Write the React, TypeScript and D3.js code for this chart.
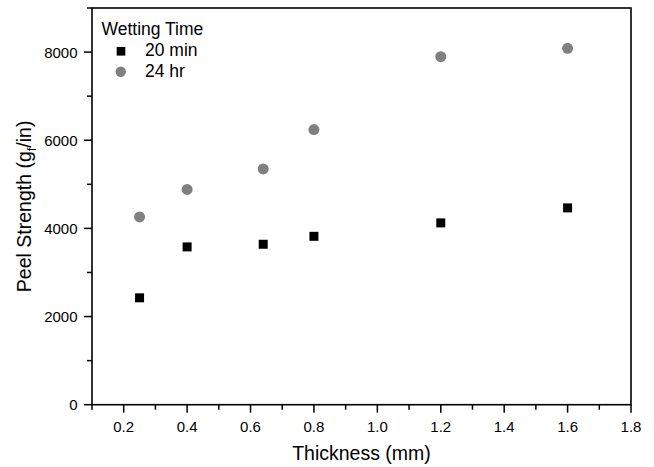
import React from "react";
import * as d3 from "d3";

const thickness = [0.25, 0.4, 0.64, 0.8, 1.2, 1.6];
const min20 = [2425, 3580, 3640, 3820, 4125, 4465];
const hr24 = [4260, 4885, 5350, 6243, 7895, 8085];
const xTicks = [0.2, 0.4, 0.6, 0.8, 1.0, 1.2, 1.4, 1.6, 1.8];
const xMinor = [0.1, 0.3, 0.5, 0.7, 0.9, 1.1, 1.3, 1.5, 1.7];
const yTicks = [0, 2000, 4000, 6000, 8000];
const yMinor = [1000, 3000, 5000, 7000, 9000];

const W = 654, H = 467;
const L = 92, R = 631, T = 8, B = 404.7;
const font = "'Liberation Sans', Arial, sans-serif";

export default function App() {
  const x = d3.scaleLinear().domain([0.1, 1.8]).range([L, R]);
  const y = d3.scaleLinear().domain([0, 9000]).range([B, T]);
  return (
    <svg width={W} height={H} style={{ position: "absolute", left: 0, top: 0 }} fontFamily={font}>
      <rect x={0} y={0} width={W} height={H} fill="#fff" />
      <rect x={L} y={T} width={R - L} height={B - T} fill="none" stroke="#000" strokeWidth={1.6} />
      {xTicks.map((t) => (
        <g key={"xt" + t}>
          <line x1={x(t)} x2={x(t)} y1={B} y2={B + 8} stroke="#000" strokeWidth={1.5} />
          <text x={x(t)} y={B + 27} textAnchor="middle" fontSize={15} fill="#000">{t.toFixed(1)}</text>
        </g>
      ))}
      {xMinor.map((t) => (
        <line key={"xm" + t} x1={x(t)} x2={x(t)} y1={B} y2={B + 5} stroke="#000" strokeWidth={1.5} />
      ))}
      {yTicks.map((t) => (
        <g key={"yt" + t}>
          <line x1={L - 8} x2={L} y1={y(t)} y2={y(t)} stroke="#000" strokeWidth={1.5} />
          <text x={L - 14.5} y={y(t) + 5.5} textAnchor="end" fontSize={15} fill="#000">{t}</text>
        </g>
      ))}
      {yMinor.map((t) => (
        <line key={"ym" + t} x1={L - 5} x2={L} y1={y(t)} y2={y(t)} stroke="#000" strokeWidth={1.5} />
      ))}
      {thickness.map((t, i) => (
        <rect key={"s" + i} x={x(t) - 4.5} y={y(min20[i]) - 4.5} width={9} height={9} fill="#000" />
      ))}
      {thickness.map((t, i) => (
        <circle key={"c" + i} cx={x(t)} cy={y(hr24[i])} r={5.5} fill="#808080" />
      ))}
      <text x={(L + R) / 2} y={459.5} textAnchor="middle" fontSize={19.5} fill="#000">Thickness (mm)</text>
      <text transform={`translate(30.5,${(T + B) / 2}) rotate(-90)`} textAnchor="middle" fontSize={19.5} fill="#000">
        Peel Strength (g<tspan fontSize={13} dy={5}>f</tspan><tspan dy={-5}>/in)</tspan>
      </text>
      <text x={101.5} y={35} fontSize={17.5} fill="#000">Wetting Time</text>
      <rect x={116.7} y={47} width={8.6} height={8.6} fill="#000" />
      <text x={145} y={56} fontSize={17.5} fill="#000">20 min</text>
      <circle cx={120.7} cy={71.7} r={5.2} fill="#808080" />
      <text x={145} y={76.5} fontSize={17.5} fill="#000">24 hr</text>
    </svg>
  );
}
